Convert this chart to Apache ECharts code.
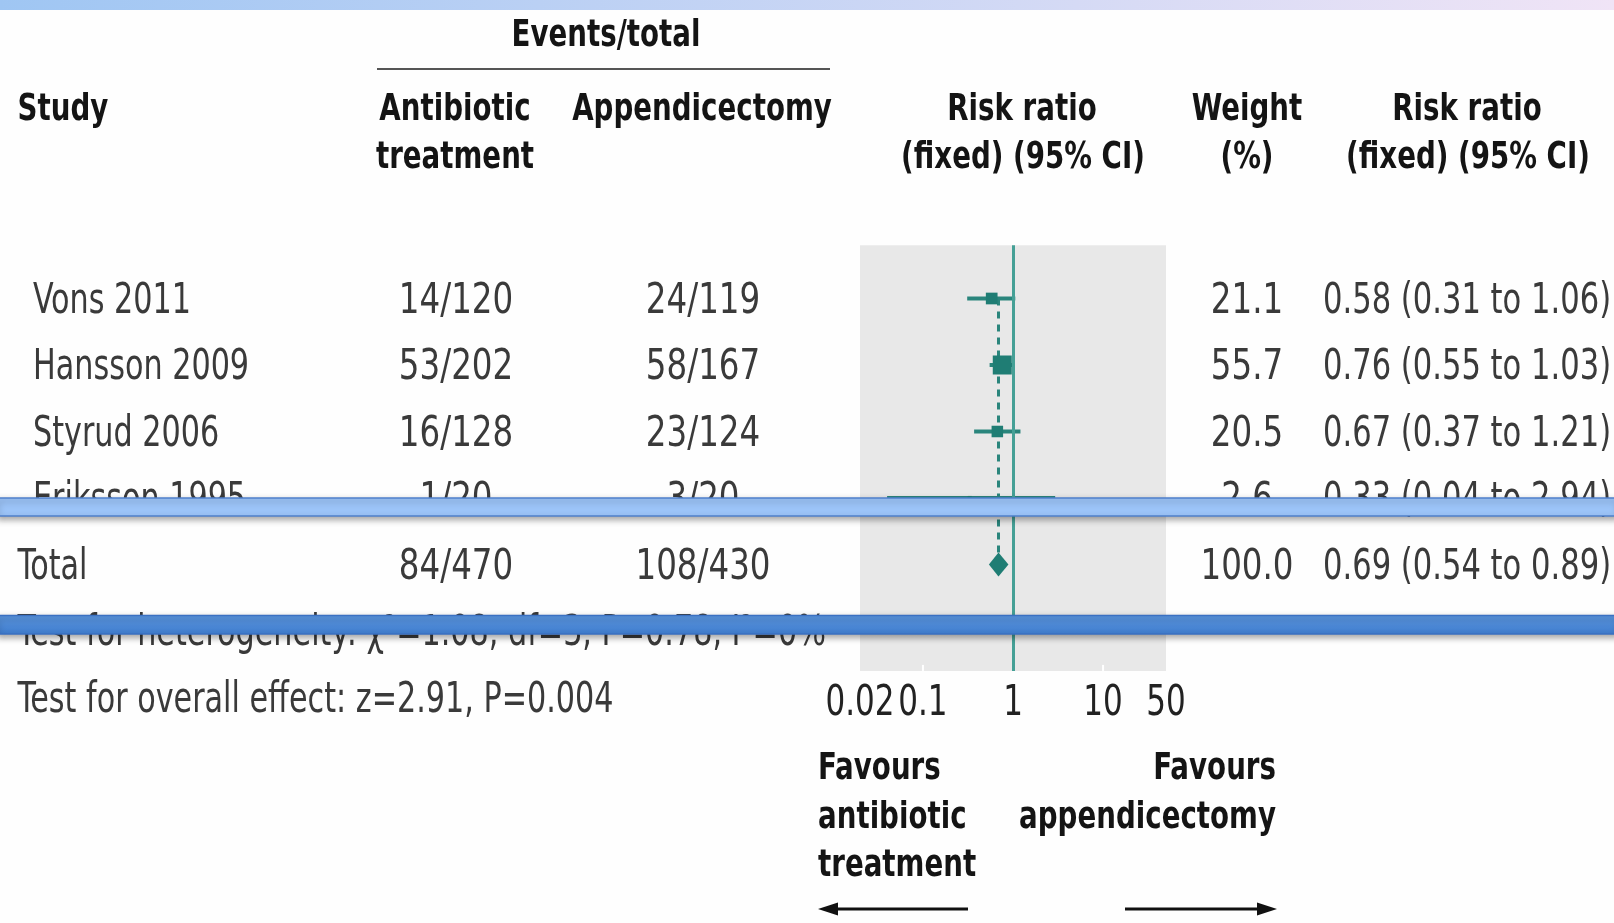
<!DOCTYPE html>
<html><head><meta charset="utf-8">
<script src="https://cdn.jsdelivr.net/npm/echarts@6/dist/echarts.min.js"></script>
<style>html,body{margin:0;padding:0;background:#fefefe}#c{width:1614px;height:923px}</style>
</head><body><div id="c"></div>
<script>
// ---------- data ----------
const studies = ['Vons 2011', 'Hansson 2009', 'Styrud 2006', 'Eriksson 1995'];
const antibioticEvents = ['14/120', '53/202', '16/128', '1/20'];
const appendicectomyEvents = ['24/119', '58/167', '23/124', '3/20'];
const weights = [21.1, 55.7, 20.5, 2.6];
const riskRatio = [0.58, 0.76, 0.67, 0.33];
const ciLow = [0.31, 0.55, 0.37, 0.04];
const ciHigh = [1.06, 1.03, 1.21, 2.94];
const totalLabel = 'Total';
const totalAntibiotic = '84/470';
const totalAppendicectomy = '108/430';
const totalWeight = [100.0];
const totalEstimate = [0.69, 0.54, 0.89];
const heterogeneityText = 'Test for heterogeneity: χ²=1.08, df=3, P=0.78, I²=0%';
const overallText = 'Test for overall effect: z=2.91, P=0.004';
const tickValues = [0.02, 0.1, 1, 10, 50];
const tickLabels = ['0.02', '0.1', '1', '10', '50'];

// ---------- layout / style ----------
const FONT = "'Liberation Sans Narrow','Arial Narrow','DejaVu Sans Condensed',sans-serif";
const BODY = '#3a3a3a', HEAD = '#141414';
const TEAL = '#1f7d74', TEAL_LINE = '#2a857c', REF_LINE = '#45a096';
const col = {study: 33, label: 17.5, anti: 456, appe: 703, weight: 1247, rr: 1323};
const SX_TEXT = 0.80, SX_NUM = 0.86, SX_RR = 0.81, SX_HEAD = 0.81, SX_TICK = 0.82, DY = 3.5;

function fmtRR(e, l, h) { return e.toFixed(2) + ' (' + l.toFixed(2) + ' to ' + h.toFixed(2) + ')'; }

const tableRows = studies.map((s, i) => ({row: i, first: col.study,
  cells: [s, antibioticEvents[i], appendicectomyEvents[i], weights[i].toFixed(1), fmtRR(riskRatio[i], ciLow[i], ciHigh[i])]}));
tableRows.push({row: 4, first: col.label, cells: [totalLabel, totalAntibiotic, totalAppendicectomy, totalWeight[0].toFixed(1),
  fmtRR(totalEstimate[0], totalEstimate[1], totalEstimate[2])]});
tableRows.push({row: 5, first: col.label, cells: [heterogeneityText]});
tableRows.push({row: 6, first: col.label, cells: [overallText]});

function txt(x, y, text, align, sx, extra) {
  return {type: 'text', x: x, y: y + DY, scaleX: sx, style: Object.assign({text: text, fill: BODY, fontSize: 42, fontFamily: FONT,
    align: align, verticalAlign: 'middle'}, extra || {})};
}
function htxt(x, y, text, align) {
  return txt(x, y, text, align, SX_HEAD, {fill: HEAD, fontWeight: 'bold', fontSize: 38});
}

const chart = echarts.init(document.getElementById('c'), null, {renderer: 'canvas'});

const forestData = studies.map((s, i) => [ciLow[i], ciHigh[i], riskRatio[i], i, weights[i]]);
const maxW = Math.max.apply(null, weights);
const xMin = tickValues[0], xMax = tickValues[tickValues.length - 1];

chart.setOption({
  animation: false,
  backgroundColor: '#fefefe',
  grid: {left: 860, top: 245.3, width: 306, height: 425.6, show: true, backgroundColor: '#e8e8e8', borderWidth: 0},
  xAxis: {
    type: 'log', logBase: 10, min: xMin, max: xMax,
    axisLine: {show: false}, splitLine: {show: false}, axisTick: {show: false}, axisLabel: {show: false}
  },
  yAxis: {type: 'value', inverse: true, min: -0.8, max: 5.6, show: false},
  series: [
    {
      type: 'line', name: 'pooled', data: [[totalEstimate[0], 0], [totalEstimate[0], 4]], symbol: 'none', z: 2,
      lineStyle: {color: TEAL_LINE, width: 3, type: [7, 6]}, silent: true,
      markLine: {silent: true, symbol: 'none', label: {show: false}, data: [{xAxis: 1}],
        lineStyle: {color: REF_LINE, width: 3, type: 'solid'}}
    },
    {
      type: 'custom', name: 'studies', data: forestData, clip: false, z: 3,
      renderItem: function (params, api) {
        const a = api.coord([api.value(0), api.value(3)]);
        const b = api.coord([api.value(1), api.value(3)]);
        const c = api.coord([api.value(2), api.value(3)]);
        const sz = 19 * Math.sqrt(api.value(4) / maxW);
        return {type: 'group', children: [
          {type: 'line', shape: {x1: a[0], y1: a[1], x2: b[0], y2: b[1]}, style: {stroke: TEAL_LINE, lineWidth: 4}},
          {type: 'rect', shape: {x: c[0] - sz / 2, y: c[1] - sz / 2, width: sz, height: sz}, style: {fill: TEAL}}
        ]};
      }
    },
    {
      type: 'custom', name: 'total', data: [[totalEstimate[1], totalEstimate[2], totalEstimate[0], 4]], clip: false, z: 3,
      renderItem: function (params, api) {
        const l = api.coord([api.value(0), api.value(3)]);
        const h = api.coord([api.value(1), api.value(3)]);
        const e = api.coord([api.value(2), api.value(3)]);
        return {type: 'polygon', shape: {points: [[l[0], l[1]], [e[0], e[1] - 12], [h[0], h[1]], [e[0], e[1] + 12]]},
          style: {fill: TEAL}};
      }
    },
    {
      type: 'custom', name: 'axis', data: tickValues.map((v, i) => [v, i]), clip: false, z: 4, silent: true,
      renderItem: function (params, api) {
        const v = api.value(0);
        const cs = params.coordSys;
        const x = api.coord([v, 0])[0];
        const bottom = cs.y + cs.height;
        const ch = [txt(x, bottom + 30, tickLabels[api.value(1)], 'center', SX_TICK, {fill: '#222'})];
        if (v > xMin && v < xMax) {
          ch.push({type: 'line', shape: {x1: x, y1: bottom - 6, x2: x, y2: bottom}, style: {stroke: '#ffffff', lineWidth: 2}});
        }
        return {type: 'group', children: ch};
      }
    },
    {
      type: 'custom', name: 'table', data: tableRows.map(r => [1, r.row]), clip: false, z: 5, silent: true,
      renderItem: function (params, api) {
        const r = tableRows[params.dataIndex];
        const y = api.coord([1, api.value(1)])[1];
        const ch = [txt(r.first, y, r.cells[0], 'left', SX_TEXT)];
        if (r.cells.length > 1) {
          ch.push(txt(col.anti, y, r.cells[1], 'center', SX_NUM));
          ch.push(txt(col.appe, y, r.cells[2], 'center', SX_NUM));
          ch.push(txt(col.weight, y, r.cells[3], 'center', SX_NUM));
          ch.push(txt(col.rr, y, r.cells[4], 'left', SX_RR));
        }
        return {type: 'group', children: ch};
      }
    }
  ],
  graphic: [
    {type: 'rect', z: 100, shape: {x: 0, y: 0, width: 1614, height: 10},
      style: {fill: new echarts.graphic.LinearGradient(0, 0, 1, 0, [{offset: 0, color: '#9fc6f3'}, {offset: 1, color: '#f0e4f6'}])}},
    htxt(606, 33, 'Events/total', 'center'),
    {type: 'line', shape: {x1: 377, y1: 69, x2: 830, y2: 69}, style: {stroke: '#555', lineWidth: 2}},
    htxt(17.5, 107, 'Study', 'left'),
    htxt(455, 107, 'Antibiotic', 'center'),
    htxt(455, 155, 'treatment', 'center'),
    htxt(702, 107, 'Appendicectomy', 'center'),
    htxt(1022, 107, 'Risk ratio', 'center'),
    htxt(1023, 155, '(fixed) (95% CI)', 'center'),
    htxt(1247, 107, 'Weight', 'center'),
    htxt(1247, 155, '(%)', 'center'),
    htxt(1467, 107, 'Risk ratio', 'center'),
    htxt(1468, 155, '(fixed) (95% CI)', 'center'),
    htxt(818, 766, 'Favours', 'left'),
    htxt(818, 815, 'antibiotic', 'left'),
    htxt(818, 863, 'treatment', 'left'),
    htxt(1276, 766, 'Favours', 'right'),
    htxt(1276, 815, 'appendicectomy', 'right'),
    {type: 'line', shape: {x1: 968, y1: 909, x2: 832, y2: 909}, style: {stroke: '#111', lineWidth: 3}},
    {type: 'polygon', shape: {points: [[818, 909], [838, 902.5], [838, 915.5]]}, style: {fill: '#111'}},
    {type: 'line', shape: {x1: 1125, y1: 909, x2: 1262, y2: 909}, style: {stroke: '#111', lineWidth: 3}},
    {type: 'polygon', shape: {points: [[1277, 909], [1257, 902.5], [1257, 915.5]]}, style: {fill: '#111'}},
    {type: 'rect', z: 100, shape: {x: -2, y: 498, width: 1620, height: 18},
      style: {fill: '#9cc4f8', stroke: '#4f80cc', lineWidth: 1.5, shadowBlur: 6, shadowOffsetY: 3, shadowColor: 'rgba(0,0,0,0.35)'}},
    {type: 'rect', z: 100, shape: {x: -2, y: 615.5, width: 1620, height: 18.5},
      style: {fill: new echarts.graphic.LinearGradient(0, 0, 0, 1, [{offset: 0, color: '#5b96df'}, {offset: 1, color: '#3f7ccd'}]),
        stroke: '#3a70c2', lineWidth: 1.5, shadowBlur: 6, shadowOffsetY: 3, shadowColor: 'rgba(0,0,0,0.35)'}}
  ]
});
</script></body></html>
